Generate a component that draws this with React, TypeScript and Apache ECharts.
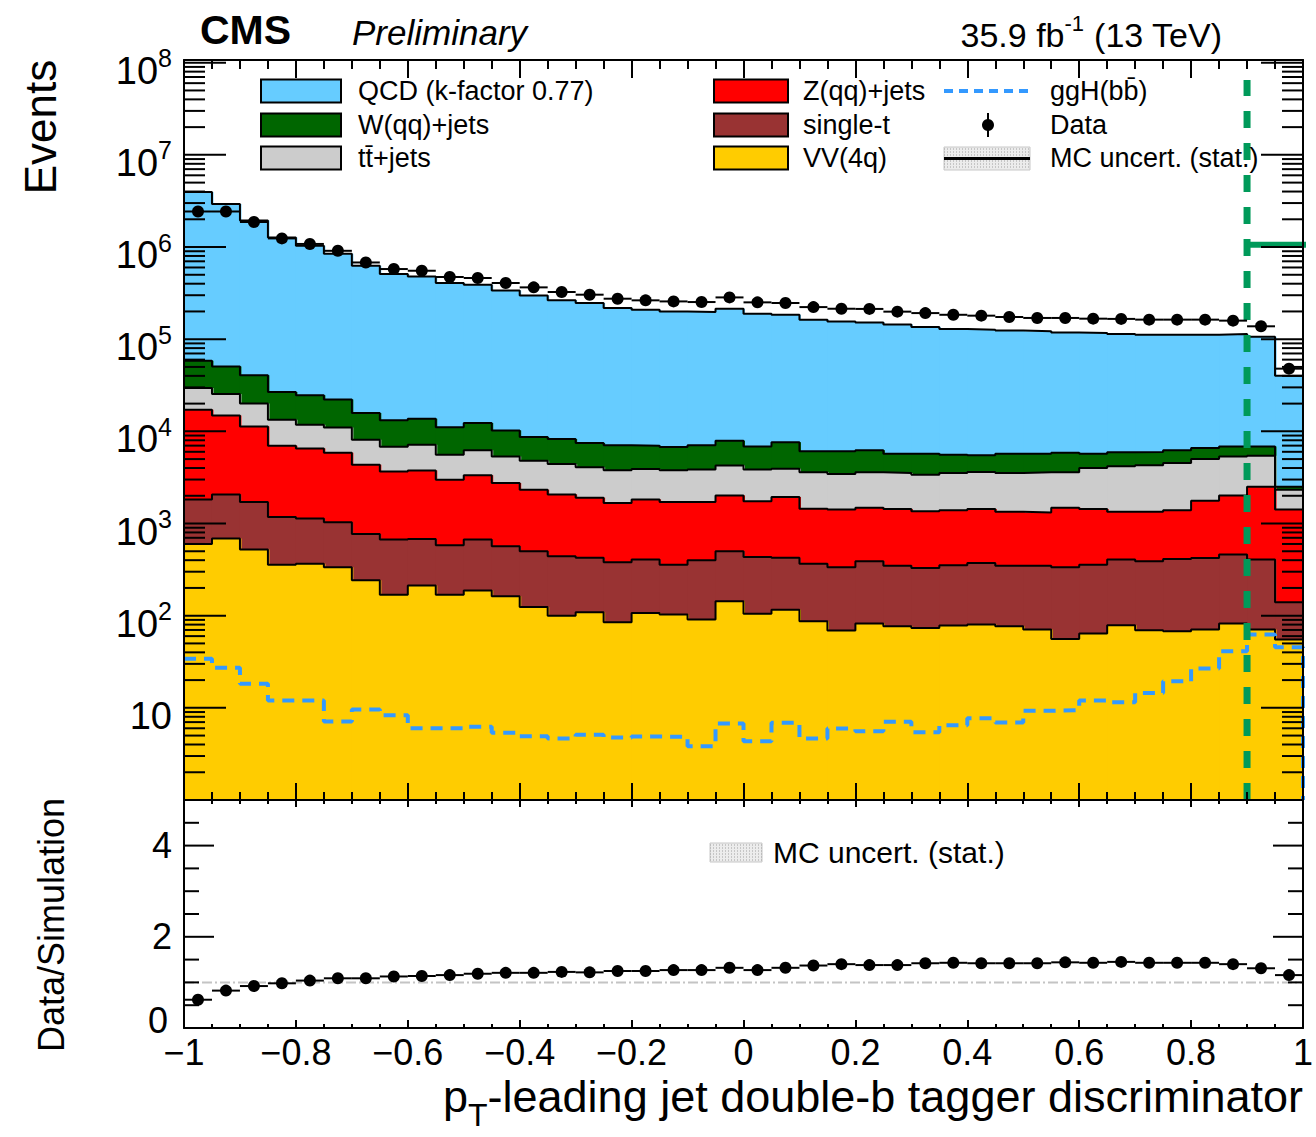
import React, { useEffect, useRef } from "react";
import * as echarts from "echarts";

const FONT = "'Liberation Sans', Arial, Helvetica, sans-serif";

// ---- binning ----
const nBins = 40;
const xMin = -1;
const xMax = 1;
const binWidth = 0.05;
const binEdges = Array.from({ length: nBins }, (_, i) => +(xMin + i * binWidth).toFixed(3));
const binCenters = binEdges.map((e) => +(e + binWidth / 2).toFixed(4));

// ---- stacked backgrounds (events per bin) ----
const qcd = [3891500, 2879300, 1899500, 1243300, 1005400, 822900, 611200, 496800, 466300, 394900,
  377700, 327800, 289300, 255700, 239500, 211000, 202000, 193200, 190000, 206100,
  182100, 176400, 156900, 149900, 145800, 138300, 130300, 123400, 121500, 118300,
  116300, 112200, 111300, 108100, 106000, 105800, 105400, 107100, 99130, 37690];
const wJets = [28900, 25200, 20500, 13300, 12800, 11100, 7670, 6380, 6530, 5520,
  6080, 4850, 3890, 3840, 3420, 3270, 3090, 3000, 3200, 3680,
  3020, 3660, 2480, 2620, 2630, 2190, 2310, 2050, 1860, 2190,
  2110, 2260, 1720, 1760, 1700, 1680, 1590, 1520, 1420, 180];
const ttJets = [12400, 10600, 8700, 6400, 5300, 5130, 3780, 3160, 3420, 2590,
  2890, 2600, 2480, 2370, 2170, 2110, 2090, 2070, 2140, 2240,
  2110, 2000, 2140, 2030, 2110, 2100, 2030, 2150, 2190, 2200,
  2270, 2110, 2570, 2830, 2940, 3150, 3240, 3340, 2950, 910];
const zJets = [15380, 12840, 9590, 5820, 5370, 4840, 3579, 2991, 3069, 2410,
  2661, 2184, 1830, 1619, 1476, 1290, 1414, 1352, 1311, 1510,
  1306, 1516, 1083, 1085, 1091, 1091, 1030, 1038, 1066, 991,
  971, 1145, 1082, 934, 951, 977, 1346, 1550, 2094, 1280];
const singleT = [1219, 1374, 1189, 822, 765, 695, 529, 500, 469, 411,
  482, 404, 376, 341, 315, 295, 299, 255, 308, 357,
  329, 308, 280, 266, 307, 272, 256, 274, 294, 272,
  278, 279, 294, 327, 320, 345, 353, 378, 335, 85];
const vv = [601, 686, 521, 358, 365, 335, 242, 169, 212, 169,
  187, 162, 124, 100, 109, 84.8, 107, 103, 90.7, 143,
  105, 116, 86.9, 68.9, 82, 76.8, 73.7, 78.1, 80, 76.8,
  70.7, 56, 64, 78.7, 69.5, 67.7, 70.7, 82, 70.7, 55];

// ---- signal (not stacked) ----
const ggH = [34, 27.2, 18.2, 12.0, 12.0, 7.1, 9.59, 8.32, 6.01, 6.01,
  6.22, 5.36, 4.92, 4.65, 5.1, 4.76, 4.88, 4.85, 3.83, 6.76,
  4.34, 6.88, 4.65, 5.97, 5.57, 7.05, 5.44, 6.48, 7.71, 6.93,
  9.27, 9.42, 12.0, 11.5, 14.5, 19.4, 26.7, 41.1, 62.4, 45.4];

// ---- data ----
const dataCounts = [2430000, 2430000, 1870000, 1240000, 1080000, 910000, 680000, 577000, 553000, 473000,
  461000, 407000, 365000, 325000, 304000, 275000, 264000, 257000, 253000, 284000,
  251000, 247000, 223000, 214000, 213000, 199000, 192000, 184000, 180000, 174000,
  170000, 170000, 167000, 166000, 163000, 163000, 163000, 159000, 138000, 47900];

const ratio = [0.62, 0.82, 0.92, 0.98, 1.04, 1.09, 1.09, 1.13, 1.14, 1.16,
  1.19, 1.21, 1.21, 1.23, 1.22, 1.25, 1.25, 1.27, 1.27, 1.32,
  1.27, 1.32, 1.37, 1.40, 1.38, 1.38, 1.42, 1.43, 1.42, 1.42,
  1.42, 1.44, 1.43, 1.45, 1.43, 1.43, 1.43, 1.40, 1.31, 1.16];

// ---- tick labels ----
const xTickLabels = ["\u22121", "\u22120.8", "\u22120.6", "\u22120.4", "\u22120.2", "0", "0.2", "0.4", "0.6", "0.8", "1"];
const logTickExponents = [1, 2, 3, 4, 5, 6, 7, 8];
const ratioTickLabels: Record<string, string> = { "0": "0", "2": "2", "4": "4" };

const cutValue = 0.9;
const cutArrowLevel = 1.06e6;
const yMinTop = 1;
const yMaxTop = 1.07e8;

const colors = {
  qcd: "#66ccff",
  w: "#006600",
  tt: "#cccccc",
  z: "#ff0000",
  st: "#993333",
  vv: "#ffcc00",
  ggh: "#3399ff",
  cut: "#009a5a",
};

// stack order, bottom to top
const stackDefs = [
  { name: "VV(4q)", vals: vv, color: colors.vv },
  { name: "single-t", vals: singleT, color: colors.st },
  { name: "Z(qq)+jets", vals: zJets, color: colors.z },
  { name: "tt+jets", vals: ttJets, color: colors.tt },
  { name: "W(qq)+jets", vals: wJets, color: colors.w },
  { name: "QCD", vals: qcd, color: colors.qcd },
];
// running sum of the stack (top edge of each layer)
const stackTops = stackDefs.map((_, k) =>
  binEdges.map((_, i) => stackDefs.slice(0, k + 1).reduce((s, d) => s + d.vals[i], 0))
);

function stepData(vals: number[]) {
  const pts: number[][] = vals.map((v, i) => [binEdges[i], v]);
  pts.push([xMax, vals[vals.length - 1]]);
  return pts;
}

function barRender(color: string) {
  return (params: any, api: any) => {
    const x0 = api.value(0);
    const v = api.value(1);
    const pTop = api.coord([x0, v]);
    const pEnd = api.coord([x0 + binWidth, yMinTop]);
    const overlap = params.dataIndex < nBins - 1 ? 1.5 : 0;
    return {
      type: "rect",
      shape: { x: pTop[0], y: pTop[1], width: pEnd[0] - pTop[0] + overlap, height: pEnd[1] - pTop[1] },
      style: { fill: color, stroke: null },
    };
  };
}

function dataRender(r: number) {
  return (params: any, api: any) => {
    const xc = api.value(0);
    const yv = api.value(1);
    const p = api.coord([xc, yv]);
    const l = api.coord([xc - binWidth / 2, yv]);
    const rr = api.coord([xc + binWidth / 2, yv]);
    return {
      type: "group",
      children: [
        { type: "line", shape: { x1: l[0], y1: p[1], x2: rr[0], y2: p[1] }, style: { stroke: "#000", lineWidth: 2 } },
        { type: "circle", shape: { cx: p[0], cy: p[1], r }, style: { fill: "#000" } },
      ],
    };
  };
}

function yTickRender(majorLen: number, minorLen: number) {
  return (params: any, api: any) => {
    const v = api.value(1);
    const major = api.value(2) === 1;
    const pl = api.coord([xMin, v]);
    const pr = api.coord([xMax, v]);
    const len = major ? majorLen : minorLen;
    return {
      type: "group",
      children: [
        { type: "line", shape: { x1: pl[0], y1: pl[1], x2: pl[0] + len, y2: pl[1] }, style: { stroke: "#000", lineWidth: 2 } },
        { type: "line", shape: { x1: pr[0] - len, y1: pr[1], x2: pr[0], y2: pr[1] }, style: { stroke: "#000", lineWidth: 2 } },
      ],
    };
  };
}

function hatch(x: number, y: number, w: number, h: number, midLine: boolean) {
  const children: any[] = [
    { type: "rect", shape: { x, y, width: w, height: h }, style: { fill: "#ececec", stroke: "#c8c8c8", lineWidth: 1 } },
  ];
  for (let yy = y + 2; yy < y + h; yy += 3) {
    children.push({ type: "line", shape: { x1: x, y1: yy, x2: x + w, y2: yy }, style: { stroke: "#a0a0a0", lineWidth: 1, lineDash: [1, 2] } });
  }
  if (midLine) {
    children.push({ type: "line", shape: { x1: x, y1: y + h / 2, x2: x + w, y2: y + h / 2 }, style: { stroke: "#000", lineWidth: 3 } });
  }
  return children;
}

function txt(text: string, x: number, y: number, size: number, extra: any = {}) {
  return {
    type: "text",
    x,
    y,
    z: 100,
    style: {
      text,
      fill: "#000",
      fontSize: size,
      fontFamily: FONT,
      textAlign: "left",
      textVerticalAlign: "middle",
      verticalAlign: "middle",
      ...extra,
    },
  };
}

function buildOption() {
  const xAx = (grid: number, position: string, major: number, minor: number, showLabels: boolean) => ({
    type: "value",
    gridIndex: grid,
    position,
    min: xMin,
    max: xMax,
    interval: 0.2,
    z: 10,
    axisLine: { show: true, onZero: false, lineStyle: { color: "#000", width: 2 } },
    axisTick: { show: true, inside: true, length: major, lineStyle: { color: "#000", width: 2 } },
    minorTick: { show: true, splitNumber: 4, length: minor, lineStyle: { color: "#000", width: 2 } },
    splitLine: { show: false },
    minorSplitLine: { show: false },
    axisLabel: showLabels
      ? {
          show: true,
          margin: 7,
          fontSize: 36,
          lineHeight: 34,
          fontFamily: FONT,
          color: "#000",
          formatter: (v: number) => xTickLabels[Math.round((v - xMin) / 0.2)] ?? "",
        }
      : { show: false },
  });

  const logFormatter = (v: number) => {
    const lg = Math.log10(v);
    const e = Math.round(lg);
    if (Math.abs(lg - e) > 1e-6 || logTickExponents.indexOf(e) < 0) return "";
    if (e === 1) return "{b|10}";
    return "{b|10}{sup|" + e + "}";
  };

  const logTicks: number[][] = [];
  for (let d = 0; d < 8; d++) {
    for (let m = 1; m <= 9; m++) {
      const v = m * Math.pow(10, d);
      if (v <= 1) continue;
      logTicks.push([xMin, v, m === 1 ? 1 : 0]);
    }
  }
  logTicks.push([xMin, 1e8, 1]);

  const ratioTicks: number[][] = [0.5, 1, 1.5, 2, 2.5, 3, 3.5, 4, 4.5].map((v) => [xMin, v, v === 2 || v === 4 ? 1 : 0]);

  const series: any[] = [];
  // fills: draw the tallest cumulative layer first, smaller layers on top
  for (let k = stackDefs.length - 1; k >= 0; k--) {
    series.push({
      type: "custom",
      name: stackDefs[k].name + " fill",
      xAxisIndex: 0,
      yAxisIndex: 0,
      dimensions: ["x", "y"],
      encode: { x: "x", y: "y" },
      data: stackTops[k].map((v, i) => [binEdges[i], v]),
      renderItem: barRender(stackDefs[k].color),
      z: 2,
      silent: true,
    });
  }
  // outlines
  stackDefs.forEach((s, k) => {
    series.push({
      type: "line",
      name: s.name,
      xAxisIndex: 0,
      yAxisIndex: 0,
      step: "end",
      data: stepData(stackTops[k]),
      symbol: "none",
      showSymbol: false,
      lineStyle: { color: "#000", width: 2 },
      z: 3,
      silent: true,
    });
  });

  series.push({
    type: "line",
    name: "ggH(bb)",
    xAxisIndex: 0,
    yAxisIndex: 0,
    step: "end",
    data: stepData(ggH).concat([[xMax, yMinTop]]),
    symbol: "none",
    showSymbol: false,
    lineStyle: { color: colors.ggh, width: 4, type: [12, 8] },
    z: 4,
    silent: true,
  });

  series.push({
    type: "line",
    name: "cut",
    xAxisIndex: 0,
    yAxisIndex: 0,
    data: [[cutValue, yMinTop], [cutValue, 6.5e7]],
    symbol: "none",
    showSymbol: false,
    lineStyle: { color: colors.cut, width: 7, type: [17, 15] },
    z: 6,
    silent: true,
  });
  series.push({
    type: "line",
    name: "cutArrow",
    xAxisIndex: 0,
    yAxisIndex: 0,
    data: [[cutValue, cutArrowLevel], [1.03, cutArrowLevel]],
    symbol: "none",
    showSymbol: false,
    clip: false,
    lineStyle: { color: colors.cut, width: 6 },
    z: 6,
    silent: true,
  });

  series.push({
    type: "custom",
    name: "Data",
    xAxisIndex: 0,
    yAxisIndex: 0,
    dimensions: ["x", "y"],
    encode: { x: "x", y: "y" },
    data: dataCounts.map((v, i) => [binCenters[i], v]),
    renderItem: dataRender(6),
    z: 8,
    silent: true,
  });

  series.push({
    type: "custom",
    name: "logTicks",
    xAxisIndex: 0,
    yAxisIndex: 0,
    dimensions: ["x", "y", "major"],
    encode: { x: "x", y: "y" },
    data: logTicks,
    renderItem: yTickRender(42, 21),
    z: 10,
    silent: true,
  });

  // ratio panel
  series.push({
    type: "line",
    name: "unity",
    xAxisIndex: 2,
    yAxisIndex: 2,
    data: [[xMin, 1], [xMax, 1]],
    symbol: "none",
    showSymbol: false,
    lineStyle: { color: "#c4c4c4", width: 2, type: [10, 3, 2, 3] },
    z: 3,
    silent: true,
  });
  series.push({
    type: "custom",
    name: "Ratio",
    xAxisIndex: 2,
    yAxisIndex: 2,
    dimensions: ["x", "y"],
    encode: { x: "x", y: "y" },
    data: ratio.map((v, i) => [binCenters[i], v]),
    renderItem: dataRender(6),
    z: 8,
    silent: true,
  });
  series.push({
    type: "custom",
    name: "ratioTicks",
    xAxisIndex: 2,
    yAxisIndex: 2,
    dimensions: ["x", "y", "major"],
    encode: { x: "x", y: "y" },
    data: ratioTicks,
    renderItem: yTickRender(30, 15),
    z: 10,
    silent: true,
  });

  const legendRows = [91, 125, 158];
  const boxH = 23;
  const box = (x: number, w: number, yc: number, fill: string) => ({
    type: "rect",
    z: 100,
    shape: { x, y: yc - boxH / 2, width: w, height: boxH },
    style: { fill, stroke: "#000", lineWidth: 2 },
  });
  const LS = 27;

  const graphic: any[] = [
    txt("CMS", 200, 30, 41, { fontWeight: "bold" }),
    txt("Preliminary", 352, 32, 35, { fontStyle: "italic" }),
    {
      type: "text",
      x: 1222,
      y: 32,
      z: 100,
      style: {
        text: "{b|35.9 fb}{sup|-1}{b| (13 TeV)}",
        textAlign: "right",
        textVerticalAlign: "middle",
        verticalAlign: "middle",
        rich: {
          b: { fontSize: 34, fontFamily: FONT, fill: "#000", color: "#000", lineHeight: 40, verticalAlign: "bottom" },
          sup: { fontSize: 22, fontFamily: FONT, fill: "#000", color: "#000", lineHeight: 18, verticalAlign: "top" },
        },
      },
    },
    // legend column 1
    box(261, 80, legendRows[0], colors.qcd),
    txt("QCD (k-factor 0.77)", 358, legendRows[0], LS),
    box(261, 80, legendRows[1], colors.w),
    txt("W(qq)+jets", 358, legendRows[1], LS),
    box(261, 80, legendRows[2], colors.tt),
    txt("tt\u0304+jets", 358, legendRows[2], LS),
    // legend column 2
    box(714, 74, legendRows[0], colors.z),
    txt("Z(qq)+jets", 803, legendRows[0], LS),
    box(714, 74, legendRows[1], colors.st),
    txt("single-t", 803, legendRows[1], LS),
    box(714, 74, legendRows[2], colors.vv),
    txt("VV(4q)", 803, legendRows[2], LS),
    // legend column 3
    {
      type: "line",
      z: 100,
      shape: { x1: 944, y1: legendRows[0], x2: 1030, y2: legendRows[0] },
      style: { stroke: colors.ggh, lineWidth: 4, lineDash: [9, 6] },
    },
    txt("ggH(bb\u0304)", 1050, legendRows[0], LS),
    {
      type: "line",
      z: 100,
      shape: { x1: 988, y1: legendRows[1] - 12, x2: 988, y2: legendRows[1] + 12 },
      style: { stroke: "#000", lineWidth: 2 },
    },
    { type: "circle", z: 100, shape: { cx: 988, cy: legendRows[1], r: 6 }, style: { fill: "#000" } },
    txt("Data", 1050, legendRows[1], LS),
    { type: "group", z: 100, children: hatch(944, 147, 86, 23, true) },
    txt("MC uncert. (stat.)", 1050, legendRows[2], LS),
    // ratio legend
    { type: "group", z: 100, children: hatch(710, 843, 52, 19, false) },
    txt("MC uncert. (stat.)", 773, 852, 30),
    // axis titles
    {
      type: "text",
      x: 40,
      y: 127,
      rotation: Math.PI / 2,
      z: 100,
      style: { text: "Events", fontSize: 44, fontFamily: FONT, fill: "#000", textAlign: "center", textVerticalAlign: "middle", verticalAlign: "middle" },
    },
    {
      type: "text",
      x: 51,
      y: 925,
      rotation: Math.PI / 2,
      z: 100,
      style: { text: "Data/Simulation", fontSize: 36, fontFamily: FONT, fill: "#000", textAlign: "center", textVerticalAlign: "middle", verticalAlign: "middle" },
    },
    {
      type: "text",
      x: 1303,
      y: 1074,
      z: 100,
      style: {
        text: "{b|p}{sub|T}{b|-leading jet double-b tagger discriminator}",
        textAlign: "right",
        textVerticalAlign: "top",
        verticalAlign: "top",
        rich: {
          b: { fontSize: 45, fontFamily: FONT, fill: "#000", color: "#000", lineHeight: 45, verticalAlign: "top" },
          sub: { fontSize: 32, fontFamily: FONT, fill: "#000", color: "#000", lineHeight: 58, padding: [25, 0, 0, 0], verticalAlign: "top" },
        },
      },
    },
  ];

  return {
    animation: false,
    backgroundColor: "#ffffff",
    textStyle: { fontFamily: FONT },
    grid: [
      { left: 184, top: 60, width: 1119, height: 740, containLabel: false },
      { left: 184, top: 800, width: 1119, height: 228, containLabel: false },
    ],
    xAxis: [
      xAx(0, "bottom", 17, 8, false),
      xAx(0, "top", 18, 9, false),
      xAx(1, "bottom", 8, 4, true),
      xAx(1, "top", 7, 4, false),
    ],
    yAxis: [
      {
        type: "log",
        gridIndex: 0,
        position: "left",
        logBase: 10,
        min: yMinTop,
        max: yMaxTop,
        splitNumber: 8,
        z: 10,
        axisLine: { show: true, onZero: false, lineStyle: { color: "#000", width: 2 } },
        axisTick: { show: false },
        splitLine: { show: false },
        axisLabel: {
          show: true,
          margin: 12,
          formatter: logFormatter,
          padding: [10, 0, 0, 0],
          rich: {
            b: { fontSize: 38, fontFamily: FONT, color: "#000", lineHeight: 44, verticalAlign: "bottom" },
            sup: { fontSize: 25, fontFamily: FONT, color: "#000", lineHeight: 16, verticalAlign: "top" },
          },
        },
      },
      {
        type: "log",
        gridIndex: 0,
        position: "right",
        logBase: 10,
        min: yMinTop,
        max: yMaxTop,
        z: 10,
        axisLine: { show: true, onZero: false, lineStyle: { color: "#000", width: 2 } },
        axisTick: { show: false },
        splitLine: { show: false },
        axisLabel: { show: false },
      },
      {
        type: "value",
        gridIndex: 1,
        position: "left",
        min: 0,
        max: 5,
        interval: 2,
        z: 10,
        axisLine: { show: true, onZero: false, lineStyle: { color: "#000", width: 2 } },
        axisTick: { show: false },
        splitLine: { show: false },
        axisLabel: {
          show: true,
          margin: 12,
          color: "#000",
          formatter: (v: number) => {
            const key = String(Math.round(v));
            if (Math.abs(v - Math.round(v)) > 1e-6 || !ratioTickLabels[key]) return "";
            return v === 0 ? "{z|" + ratioTickLabels[key] + "}" : "{n|" + ratioTickLabels[key] + "}";
          },
          rich: {
            n: { fontSize: 36, fontFamily: FONT, color: "#000" },
            z: { fontSize: 36, fontFamily: FONT, color: "#000", padding: [0, 4, 16, 0] },
          },
        },
      },
      {
        type: "value",
        gridIndex: 1,
        position: "right",
        min: 0,
        max: 5,
        interval: 2,
        z: 10,
        axisLine: { show: true, onZero: false, lineStyle: { color: "#000", width: 2 } },
        axisTick: { show: false },
        splitLine: { show: false },
        axisLabel: { show: false },
      },
    ],
    series,
    graphic,
  };
}

export default function App() {
  const ref = useRef<HTMLDivElement>(null);
  useEffect(() => {
    if (!ref.current) return;
    const chart = echarts.init(ref.current, undefined, { renderer: "svg" });
    chart.setOption(buildOption() as any);
    return () => {
      chart.dispose();
    };
  }, []);
  return (
    <div
      ref={ref}
      style={{ position: "absolute", left: 0, top: 0, width: 1316, height: 1137, background: "#ffffff" }}
    />
  );
}
